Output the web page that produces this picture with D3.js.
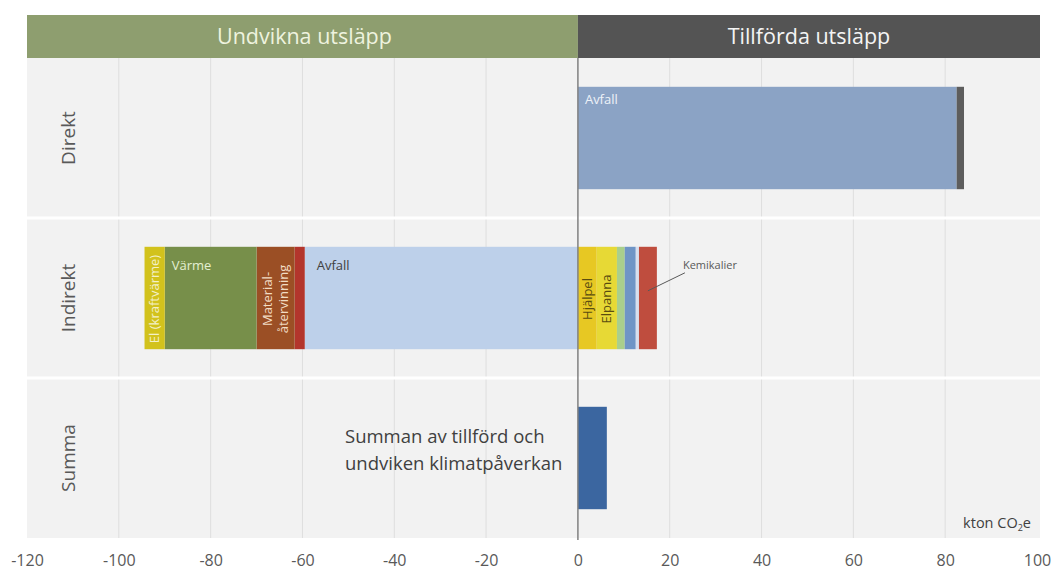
<!DOCTYPE html>
<html><head><meta charset="utf-8">
<script src="https://cdn.jsdelivr.net/npm/d3@7"></script>
<style>
html,body{margin:0;padding:0;background:#fff;}
svg{display:block;font-family:"Open Sans",sans-serif;}
</style></head>
<body><svg id="c" width="1053" height="574"></svg>
<script>
// ---- data ----
const rows = ["Direkt", "Indirekt", "Summa"];
const headers = ["Undvikna utsläpp", "Tillförda utsläpp"];
const ticks = [-120, -100, -80, -60, -40, -20, 0, 20, 40, 60, 80, 100];

const direktNames  = ["Avfall", "Övrigt"];
const direktValues = [82.5, 1.6];
const direktColors = ["#8ba3c5", "#5d5d5d"];

const indirNegNames  = ["Avfall", "Övrigt", "Material-\nåtervinning", "Värme", "El (kraftvärme)"];
const indirNegValues = [-59.5, -2.2, -8.3, -20.0, -4.4];
const indirNegColors = ["#bdd0ea", "#b3352c", "#9b4f25", "#778f4a", "#d2c21c"];

const indirPosNames  = ["Hjälpel", "Elpanna", "Övrigt 1", "Övrigt 2", "Övrigt 3", "Kemikalier"];
const indirPosValues = [4.1, 4.4, 1.7, 2.4, 0.7, 3.9];
const indirPosColors = ["#e7c823", "#e7d935", "#a9cf8c", "#6f95c6", "#d7dfee", "#bf4d3e"];

const summaNames  = ["Summa"];
const summaValues = [6.3];
const summaColors = ["#3b66a0"];

// ---- layout ----
const svg = d3.select("#c");
const x = d3.scaleLinear().domain([-120, 100]).range([27, 1037]);
const y = d3.scaleBand().domain(rows).range([58, 538]).paddingInner(0.36).paddingOuter(0.18);
const pTop = 58, pBottom = 538, pLeft = x(-120), pRight = x(100) + 3;

// panel background
svg.append("rect").attr("x", pLeft).attr("y", pTop).attr("width", pRight - pLeft).attr("height", pBottom - pTop).attr("fill", "#f2f2f2");

// grid lines
svg.append("g").selectAll("line").data(ticks.filter(t => t > -120 && t < 100 && t !== 0)).join("line")
  .attr("x1", d => x(d)).attr("x2", d => x(d)).attr("y1", pTop).attr("y2", pBottom)
  .attr("stroke", "#dedede").attr("stroke-width", 1);

// row separators
const step = y.step();
[1, 2].forEach(i => {
  svg.append("line").attr("x1", pLeft).attr("x2", pRight)
    .attr("y1", pTop + i * step).attr("y2", pTop + i * step)
    .attr("stroke", "#ffffff").attr("stroke-width", 3);
});

// header
svg.append("rect").attr("x", pLeft).attr("y", 15).attr("width", x(0) - pLeft).attr("height", pTop - 15).attr("fill", "#8e9e6f");
svg.append("rect").attr("x", x(0)).attr("y", 15).attr("width", pRight - x(0)).attr("height", pTop - 15).attr("fill", "#545454");
svg.append("text").attr("x", (pLeft + x(0)) / 2 + 2).attr("y", 44).attr("text-anchor", "middle")
  .attr("font-size", 21.5).attr("fill", "#eef3df").text(headers[0]);
svg.append("text").attr("x", (x(0) + pRight) / 2).attr("y", 44).attr("text-anchor", "middle")
  .attr("font-size", 21.5).attr("fill", "#f4f4f4").text(headers[1]);

// row labels
svg.append("g").selectAll("text").data(rows).join("text")
  .attr("transform", d => `translate(75,${y(d) + y.bandwidth() / 2}) rotate(-90)`)
  .attr("text-anchor", "middle").attr("font-size", 19).attr("fill", "#595959").text(d => d);

// stacked bars
function stack(row, names, values, colors) {
  let acc = 0;
  return values.map((v, i) => {
    const s = acc; acc += v;
    return { row, name: names[i], x0: Math.min(s, acc), x1: Math.max(s, acc), color: colors[i] };
  });
}
const segs = [].concat(
  stack("Direkt", direktNames, direktValues, direktColors),
  stack("Indirekt", indirNegNames, indirNegValues, indirNegColors),
  stack("Indirekt", indirPosNames, indirPosValues, indirPosColors),
  stack("Summa", summaNames, summaValues, summaColors)
);
svg.append("g").selectAll("rect").data(segs).join("rect")
  .attr("x", d => x(d.x0)).attr("width", d => x(d.x1) - x(d.x0))
  .attr("y", d => y(d.row)).attr("height", y.bandwidth())
  .attr("fill", d => d.color);

// zero line
svg.append("line").attr("x1", x(0)).attr("x2", x(0)).attr("y1", pTop).attr("y2", pBottom + 2)
  .attr("stroke", "#808080").attr("stroke-width", 1.5);

const segOf = (row, name) => segs.find(s => s.row === row && s.name === name);

// horizontal labels inside bars
const hLabels = [
  { s: segOf("Direkt", "Avfall"), text: "Avfall", fill: "#eef2f8", dx: 7, dy: 17 },
  { s: segOf("Indirekt", "Avfall"), text: "Avfall", fill: "#404040", dx: 12, dy: 23 },
  { s: segOf("Indirekt", "Värme"), text: "Värme", fill: "#e4efd2", dx: 7, dy: 23 }
];
hLabels.forEach(l => {
  svg.append("text").attr("x", x(l.s.x0) + l.dx)
    .attr("y", y(l.s.row) + l.dy).attr("font-size", 13).attr("fill", l.fill).text(l.text);
});

// vertical labels
function vLabel(seg, lines, fill, fs) {
  const cx = (x(seg.x0) + x(seg.x1)) / 2;
  const cy = y(seg.row) + y.bandwidth() / 2 + 1;
  const t = svg.append("text").attr("transform", `translate(${cx},${cy}) rotate(-90)`)
    .attr("text-anchor", "middle").attr("font-size", fs).attr("fill", fill);
  const n = lines.length;
  lines.forEach((ln, i) => {
    t.append("tspan").attr("x", 0).attr("dy", i === 0 ? (4.5 - (n - 1) * 8) : 16).text(ln);
  });
}
vLabel(segOf("Indirekt", "El (kraftvärme)"), ["El (kraftvärme)"], "#f3f0c8", 13);
vLabel(segOf("Indirekt", "Material-\nåtervinning"), ["Material-", "återvinning"], "#f1dcc4", 13);
vLabel(segOf("Indirekt", "Hjälpel"), ["Hjälpel"], "#5a4d10", 13);
vLabel(segOf("Indirekt", "Elpanna"), ["Elpanna"], "#5a4d10", 13);

// Kemikalier callout
const kem = segOf("Indirekt", "Kemikalier");
const kx = (x(kem.x0) + x(kem.x1)) / 2;
svg.append("line").attr("x1", kx).attr("y1", y("Indirekt") + 44).attr("x2", kx + 37).attr("y2", y("Indirekt") + 26)
  .attr("stroke", "#595959").attr("stroke-width", 1);
svg.append("text").attr("x", kx + 35).attr("y", y("Indirekt") + 22).attr("font-size", 11).attr("fill", "#595959").text("Kemikalier");

// Summa annotation
const ann = svg.append("text").attr("x", 345).attr("y", 443).attr("font-size", 18.5).attr("fill", "#404040");
ann.append("tspan").attr("x", 345).attr("dy", 0).text("Summan av tillförd och");
ann.append("tspan").attr("x", 345).attr("dy", 27).text("undviken klimatpåverkan");

// unit label
const unit = svg.append("text").attr("x", 1031).attr("y", 528).attr("text-anchor", "end").attr("font-size", 14.5).attr("fill", "#404040");
unit.append("tspan").text("kton CO");
unit.append("tspan").attr("font-size", 9).attr("dy", 3).text("2");
unit.append("tspan").attr("dy", -3).text("e");

// x axis
const axis = svg.append("g").attr("transform", `translate(0,${pBottom})`)
  .call(d3.axisBottom(x).tickValues(ticks).tickSize(0).tickPadding(17).tickFormat(d => String(d)));
axis.select(".domain").remove();
axis.selectAll("text").attr("font-size", 16).attr("fill", "#595959").attr("font-family", "Open Sans, sans-serif");
</script>
</body></html>
